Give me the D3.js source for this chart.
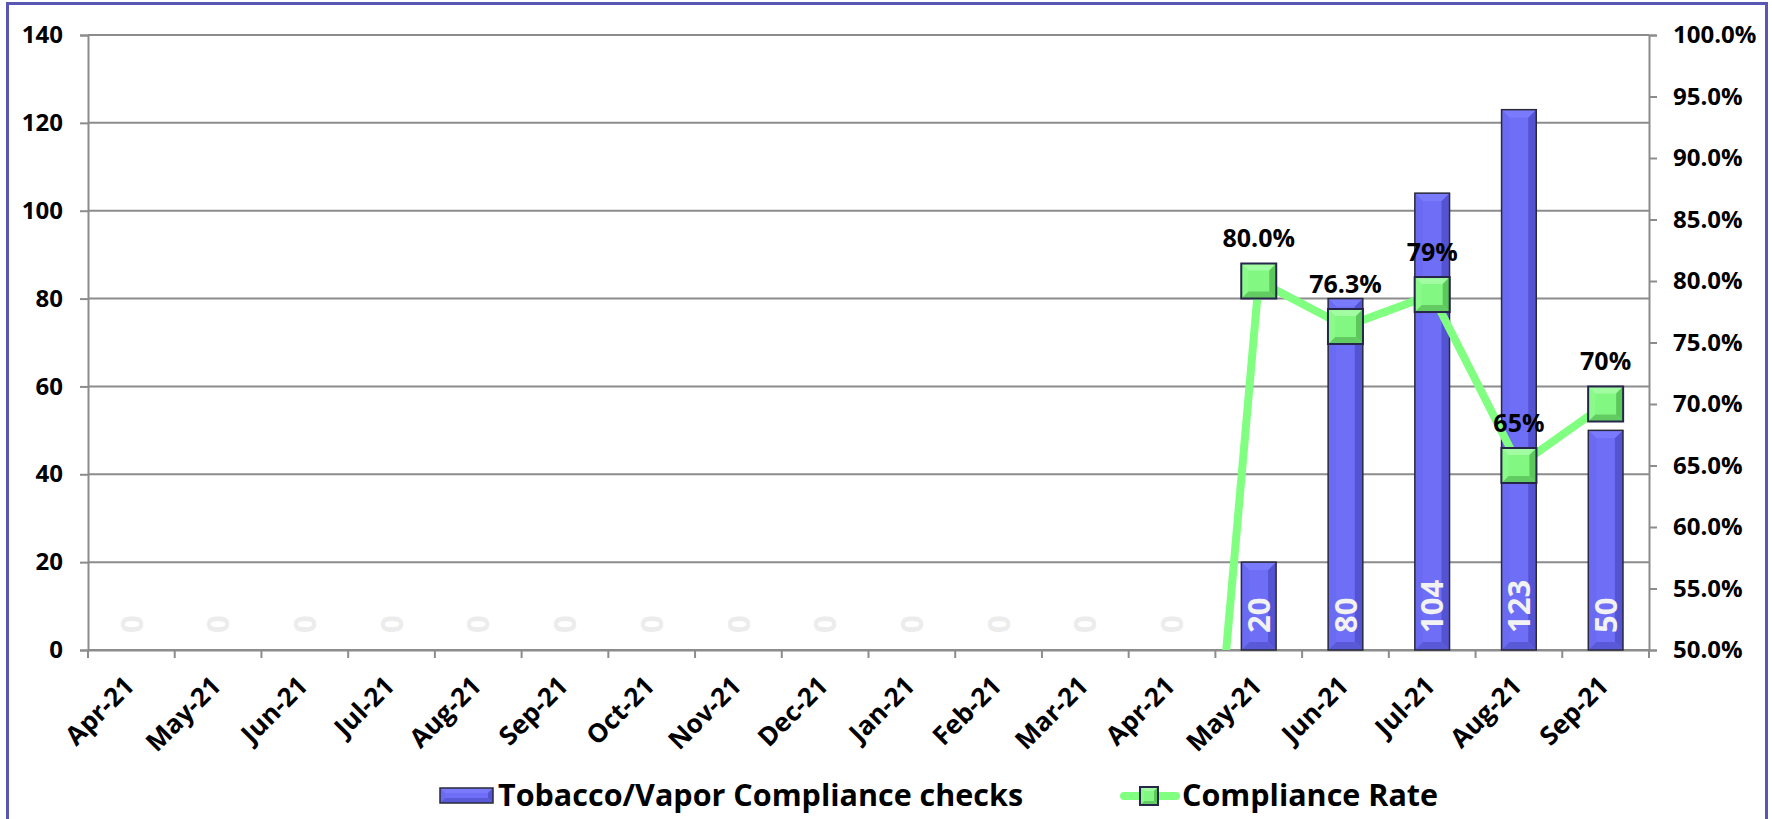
<!DOCTYPE html>
<meta charset="utf-8">
<style>
    body { margin: 0; background: #fff; }
    text { font-family: "Open Sans", "Lato", sans-serif; font-weight: 700; }
</style>
<body>
<svg id="chart" width="1772" height="819"></svg>
</body>
<script src="https://d3js.org/d3.v7.min.js"></script>
<script>

    // data
    var months = ["Apr-21", "May-21", "Jun-21", "Jul-21", "Aug-21", "Sep-21", "Oct-21", "Nov-21",
        "Dec-21", "Jan-21", "Feb-21", "Mar-21", "Apr-21", "May-21", "Jun-21", "Jul-21", "Aug-21", "Sep-21"];
    var checks = [0, 0, 0, 0, 0, 0, 0, 0, 0, 0, 0, 0, 0, 20, 80, 104, 123, 50];
    var rate = [0, 0, 0, 0, 0, 0, 0, 0, 0, 0, 0, 0, 0, 0.800, 0.763, 0.789, 0.650, 0.700];
    var rateLabels = ["", "", "", "", "", "", "", "", "", "", "", "", "", "80.0%", "76.3%", "79%", "65%", "70%"];
    var leftTicks = [0, 20, 40, 60, 80, 100, 120, 140];
    var rightTicks = [0.50, 0.55, 0.60, 0.65, 0.70, 0.75, 0.80, 0.85, 0.90, 0.95, 1.00];
    var seriesNames = ["Tobacco/Vapor Compliance checks", "Compliance Rate"];

    var svg = d3.select("#chart");
    var plotLeft = 88, plotRight = 1649, plotTop = 35, plotBottom = 650;

    var x = d3.scaleBand().domain(d3.range(months.length)).range([plotLeft, plotRight]);
    var y = d3.scaleLinear().domain([0, 140]).range([plotBottom, plotTop]);
    var y2 = d3.scaleLinear().domain([0.5, 1.0]).range([plotBottom, plotTop]);
    var barW = x.bandwidth() * 0.4;

    // outer frame
    svg.append("rect")
        .attr("x", 7.5).attr("y", 3.5).attr("width", 1759).attr("height", 840)
        .attr("fill", "none").attr("stroke", "#5858b4").attr("stroke-width", 3);

    // gridlines
    svg.append("g").selectAll("line").data(leftTicks).join("line")
        .attr("x1", plotLeft).attr("x2", plotRight)
        .attr("y1", function(d) { return y(d); }).attr("y2", function(d) { return y(d); })
        .attr("stroke", "#8c8c8c").attr("stroke-width", 2);

    // left axis
    var yAxis = svg.append("g").attr("transform", "translate(" + plotLeft + ",0)")
        .call(d3.axisLeft(y).tickValues(leftTicks).tickSize(8).tickPadding(17));
    // right axis
    var y2Axis = svg.append("g").attr("transform", "translate(" + plotRight + ",0)")
        .call(d3.axisRight(y2).tickValues(rightTicks).tickSize(8).tickPadding(16).tickFormat(d3.format(".1%")));
    // bottom axis
    var xAxis = svg.append("g").attr("transform", "translate(0," + plotBottom + ")")
        .call(d3.axisBottom(x).tickSize(0).tickFormat(function(i) { return months[i]; }));

    [yAxis, y2Axis, xAxis].forEach(function(g) {
        g.select(".domain").attr("stroke", "#8c8c8c").attr("stroke-width", 2);
        g.selectAll(".tick line").attr("stroke", "#8c8c8c").attr("stroke-width", 2);
        g.selectAll(".tick text").attr("fill", "#000").style("font-size", "24px")
            .style("font-family", "'Open Sans', sans-serif").style("font-weight", 700);
    });
    y2Axis.selectAll(".tick text").attr("x", 24);

    xAxis.selectAll(".tick text")
        .style("font-size", "26px")
        .attr("text-anchor", "end")
        .attr("dy", "0.35em")
        .attr("transform", "translate(-2,31) rotate(-45)")
        .attr("x", 0).attr("y", 0);

    // band boundary ticks on x axis
    svg.append("g").selectAll("line").data(d3.range(months.length + 1)).join("line")
        .attr("x1", function(i) { return plotLeft + i * x.step(); })
        .attr("x2", function(i) { return plotLeft + i * x.step(); })
        .attr("y1", plotBottom).attr("y2", plotBottom + 8)
        .attr("stroke", "#8c8c8c").attr("stroke-width", 2);

    // bevel helper
    function bevel(g, bx, by, w, h, b, colors) {
        var pts = [
            [[bx, by], [bx + w, by], [bx + w - b, by + b], [bx + b, by + b]],
            [[bx + w, by], [bx + w, by + h], [bx + w - b, by + h - b], [bx + w - b, by + b]],
            [[bx, by + h], [bx + w, by + h], [bx + w - b, by + h - b], [bx + b, by + h - b]],
            [[bx, by], [bx + b, by + b], [bx + b, by + h - b], [bx, by + h]]
        ];
        g.append("rect").attr("x", bx).attr("y", by).attr("width", w).attr("height", h)
            .attr("fill", colors[0]);
        g.selectAll("polygon").data(pts).join("polygon")
            .attr("points", function(p) { return p.map(function(q) { return q.join(","); }).join(" "); })
            .attr("fill", function(p, i) { return colors[i + 1]; });
        g.append("rect").attr("x", bx).attr("y", by).attr("width", w).attr("height", h)
            .attr("fill", "none").attr("stroke", colors[5]).attr("stroke-width", colors[6]);
    }

    var barColors = ["#6e6ef6", "#7a7afc", "#5454d2", "#5a5ad8", "#6a6af2", "#2a2a3a", 1.5];
    var markColors = ["#82f882", "#a2fca2", "#5cc85c", "#62cc62", "#8afa8a", "#26264a", 2];

    // bars
    var bars = svg.append("g");
    checks.forEach(function(v, i) {
        if (v <= 0) return;
        var bx = x(i) + (x.bandwidth() - barW) / 2;
        bevel(bars.append("g"), bx, y(v), barW, y(0) - y(v), 8, barColors);
    });

    // bar value labels
    svg.append("g").selectAll("text").data(checks).join("text")
        .attr("transform", function(d, i) {
            var cx = x(i) + x.bandwidth() / 2;
            return "translate(" + cx + ",633) rotate(-90)";
        })
        .attr("dy", "0.36em")
        .attr("fill", function(d) { return d > 0 ? "#f2f2f2" : "#ececec"; })
        .style("font-size", "31px")
        .text(function(d) { return d; });

    // line
    svg.append("clipPath").attr("id", "plotclip").append("rect")
        .attr("x", plotLeft).attr("y", plotTop - 40)
        .attr("width", plotRight - plotLeft).attr("height", plotBottom - plotTop + 40);

    var line = d3.line()
        .x(function(d, i) { return x(i) + x.bandwidth() / 2; })
        .y(function(d) { return y2(d); });

    svg.append("path").datum(rate)
        .attr("clip-path", "url(#plotclip)")
        .attr("d", line)
        .attr("fill", "none").attr("stroke", "#80ff80").attr("stroke-width", 8)
        .attr("stroke-linejoin", "round");

    // markers
    var ms = 35;
    rate.forEach(function(v, i) {
        if (v < 0.5) return;
        var cx = x(i) + x.bandwidth() / 2;
        bevel(svg.append("g"), cx - ms / 2, y2(v) - ms / 2, ms, ms, 7, markColors);
    });

    // rate labels
    svg.append("g").selectAll("text").data(rate).join("text")
        .attr("x", function(d, i) { return x(i) + x.bandwidth() / 2; })
        .attr("y", function(d) { return y2(d) - 34; })
        .attr("text-anchor", "middle")
        .style("font-size", "25px")
        .text(function(d, i) { return rateLabels[i]; });

    // legend
    var lg = svg.append("g");
    bevel(lg.append("g"), 440, 788, 53, 15, 5, barColors);
    lg.append("text").attr("x", 498).attr("y", 806).style("font-size", "30.5px").text(seriesNames[0]);

    lg.append("line").attr("x1", 1124).attr("x2", 1176).attr("y1", 796).attr("y2", 796)
        .attr("stroke", "#80ff80").attr("stroke-width", 8).attr("stroke-linecap", "round");
    bevel(lg.append("g"), 1140, 787, 18, 18, 4, markColors);
    lg.append("text").attr("x", 1182).attr("y", 806).style("font-size", "30.5px").text(seriesNames[1]);

</script>
